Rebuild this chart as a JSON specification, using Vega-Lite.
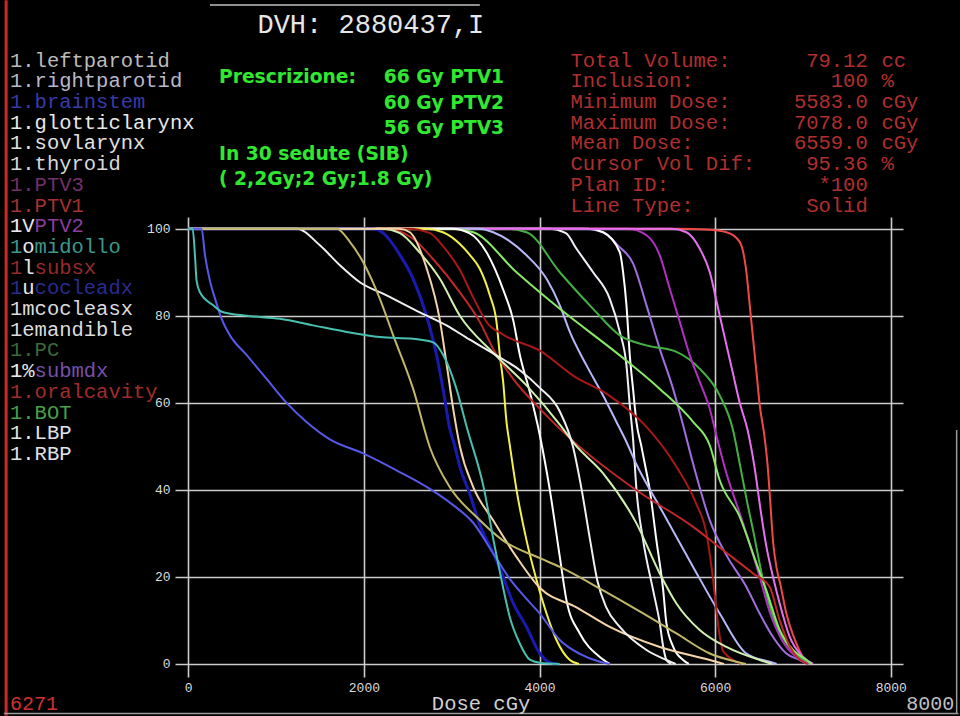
{
  "$schema": "https://vega.github.io/schema/vega-lite/v6.json",
  "width": 728,
  "height": 460,
  "autosize": {"type": "none"},
  "padding": {"left": 175, "top": 217, "right": 57, "bottom": 39},
  "background": "#000000",
  "config": {"view": {"stroke": null}},
  "datasets": {
    "curves": [
      {"s":"PTV1","d":0,"v":100},{"s":"PTV1","d":5583,"v":100},{"s":"PTV1","d":5900,"v":99.8},{"s":"PTV1","d":6128,"v":99.2},{"s":"PTV1","d":6280,"v":97},{"s":"PTV1","d":6356,"v":90},{"s":"PTV1","d":6394,"v":82.4},{"s":"PTV1","d":6432,"v":74.7},{"s":"PTV1","d":6470,"v":67.1},{"s":"PTV1","d":6508,"v":59.4},{"s":"PTV1","d":6560,"v":52.5},{"s":"PTV1","d":6600,"v":45},{"s":"PTV1","d":6625,"v":38},{"s":"PTV1","d":6660,"v":28},{"s":"PTV1","d":6700,"v":22},{"s":"PTV1","d":6740,"v":18.5},{"s":"PTV1","d":6811,"v":11.6},{"s":"PTV1","d":6925,"v":4.7},{"s":"PTV1","d":7000,"v":1.5},{"s":"PTV1","d":7078,"v":0},
      {"s":"submdx","d":0,"v":100},{"s":"submdx","d":4500,"v":100},{"s":"submdx","d":4724,"v":99.2},{"s":"submdx","d":4900,"v":96},{"s":"submdx","d":5066,"v":92},{"s":"submdx","d":5218,"v":82.4},{"s":"submdx","d":5369,"v":72.4},{"s":"submdx","d":5521,"v":63.2},{"s":"submdx","d":5620,"v":56},{"s":"submdx","d":5749,"v":46},{"s":"submdx","d":5939,"v":33},{"s":"submdx","d":6128,"v":25},{"s":"submdx","d":6356,"v":17.7},{"s":"submdx","d":6507,"v":11.6},{"s":"submdx","d":6659,"v":6.2},{"s":"submdx","d":6811,"v":2.4},{"s":"submdx","d":6963,"v":0.9},{"s":"submdx","d":7050,"v":0},
      {"s":"RBP","d":0,"v":100},{"s":"RBP","d":4550,"v":100},{"s":"RBP","d":4724,"v":99.2},{"s":"RBP","d":4914,"v":94.6},{"s":"RBP","d":4952,"v":90},{"s":"RBP","d":4990,"v":82.4},{"s":"RBP","d":5028,"v":70.9},{"s":"RBP","d":5066,"v":63},{"s":"RBP","d":5104,"v":55.5},{"s":"RBP","d":5160,"v":50},{"s":"RBP","d":5199,"v":46},{"s":"RBP","d":5255,"v":40},{"s":"RBP","d":5331,"v":28.4},{"s":"RBP","d":5408,"v":17},{"s":"RBP","d":5445,"v":9.3},{"s":"RBP","d":5521,"v":4},{"s":"RBP","d":5635,"v":0.9},{"s":"RBP","d":5700,"v":0},
      {"s":"LBP","d":0,"v":100},{"s":"LBP","d":4100,"v":100},{"s":"LBP","d":4300,"v":99},{"s":"LBP","d":4421,"v":95.4},{"s":"LBP","d":4610,"v":90},{"s":"LBP","d":4800,"v":83.9},{"s":"LBP","d":4914,"v":76.3},{"s":"LBP","d":4990,"v":68.6},{"s":"LBP","d":5028,"v":59.4},{"s":"LBP","d":5066,"v":51.4},{"s":"LBP","d":5104,"v":40},{"s":"LBP","d":5180,"v":28.4},{"s":"LBP","d":5293,"v":17},{"s":"LBP","d":5370,"v":9.3},{"s":"LBP","d":5408,"v":4},{"s":"LBP","d":5445,"v":0.9},{"s":"LBP","d":5500,"v":0},
      {"s":"BOT","d":0,"v":100},{"s":"BOT","d":3600,"v":100},{"s":"BOT","d":3852,"v":99.2},{"s":"BOT","d":4231,"v":90},{"s":"BOT","d":4610,"v":81.6},{"s":"BOT","d":4914,"v":75.5},{"s":"BOT","d":5218,"v":73.2},{"s":"BOT","d":5559,"v":71.7},{"s":"BOT","d":5825,"v":67.8},{"s":"BOT","d":6052,"v":61.7},{"s":"BOT","d":6204,"v":53.7},{"s":"BOT","d":6280,"v":46},{"s":"BOT","d":6356,"v":38},{"s":"BOT","d":6432,"v":30.7},{"s":"BOT","d":6545,"v":19.3},{"s":"BOT","d":6659,"v":10.8},{"s":"BOT","d":6811,"v":4.7},{"s":"BOT","d":7001,"v":0.9},{"s":"BOT","d":7080,"v":0},
      {"s":"PTV3","d":0,"v":100},{"s":"PTV3","d":5000,"v":100},{"s":"PTV3","d":5218,"v":98.5},{"s":"PTV3","d":5369,"v":93.9},{"s":"PTV3","d":5483,"v":86.2},{"s":"PTV3","d":5597,"v":78.6},{"s":"PTV3","d":5711,"v":70.9},{"s":"PTV3","d":5825,"v":64.8},{"s":"PTV3","d":5939,"v":58.6},{"s":"PTV3","d":6014,"v":52.5},{"s":"PTV3","d":6128,"v":43.8},{"s":"PTV3","d":6280,"v":34.6},{"s":"PTV3","d":6394,"v":27.5},{"s":"PTV3","d":6507,"v":20},{"s":"PTV3","d":6620,"v":12},{"s":"PTV3","d":6760,"v":5.5},{"s":"PTV3","d":6950,"v":1.2},{"s":"PTV3","d":7060,"v":0},
      {"s":"PTV2","d":0,"v":100},{"s":"PTV2","d":5500,"v":100},{"s":"PTV2","d":5673,"v":99.2},{"s":"PTV2","d":5825,"v":95.4},{"s":"PTV2","d":5939,"v":90},{"s":"PTV2","d":6030,"v":82},{"s":"PTV2","d":6120,"v":74},{"s":"PTV2","d":6200,"v":67},{"s":"PTV2","d":6280,"v":60},{"s":"PTV2","d":6370,"v":53.7},{"s":"PTV2","d":6450,"v":45},{"s":"PTV2","d":6520,"v":35},{"s":"PTV2","d":6583,"v":27},{"s":"PTV2","d":6659,"v":20},{"s":"PTV2","d":6735,"v":13.9},{"s":"PTV2","d":6849,"v":6.2},{"s":"PTV2","d":7001,"v":1.6},{"s":"PTV2","d":7115,"v":0},
      {"s":"rightparotid","d":0,"v":100},{"s":"rightparotid","d":3300,"v":100},{"s":"rightparotid","d":3472,"v":99.2},{"s":"rightparotid","d":3852,"v":93.9},{"s":"rightparotid","d":4080,"v":88.5},{"s":"rightparotid","d":4231,"v":82.4},{"s":"rightparotid","d":4345,"v":76.3},{"s":"rightparotid","d":4535,"v":68.6},{"s":"rightparotid","d":4724,"v":61.7},{"s":"rightparotid","d":4876,"v":55.6},{"s":"rightparotid","d":4990,"v":51},{"s":"rightparotid","d":5100,"v":46},{"s":"rightparotid","d":5369,"v":36.1},{"s":"rightparotid","d":5749,"v":22.3},{"s":"rightparotid","d":6052,"v":11.6},{"s":"rightparotid","d":6356,"v":2.4},{"s":"rightparotid","d":6621,"v":0.5},{"s":"rightparotid","d":6700,"v":0},
      {"s":"cocleasx","d":0,"v":100},{"s":"cocleasx","d":3000,"v":100},{"s":"cocleasx","d":3245,"v":99.2},{"s":"cocleasx","d":3738,"v":90},{"s":"cocleasx","d":4231,"v":81.6},{"s":"cocleasx","d":4914,"v":70.9},{"s":"cocleasx","d":5369,"v":63.2},{"s":"cocleasx","d":5749,"v":55.6},{"s":"cocleasx","d":5939,"v":50.2},{"s":"cocleasx","d":6052,"v":42.2},{"s":"cocleasx","d":6280,"v":33.8},{"s":"cocleasx","d":6470,"v":23.1},{"s":"cocleasx","d":6583,"v":16.9},{"s":"cocleasx","d":6735,"v":7.8},{"s":"cocleasx","d":6887,"v":3.2},{"s":"cocleasx","d":7039,"v":0.9},{"s":"cocleasx","d":7100,"v":0},
      {"s":"sovlarynx","d":0,"v":100},{"s":"sovlarynx","d":3000,"v":100},{"s":"sovlarynx","d":3200,"v":99},{"s":"sovlarynx","d":3396,"v":94.6},{"s":"sovlarynx","d":3586,"v":86},{"s":"sovlarynx","d":3700,"v":79},{"s":"sovlarynx","d":3776,"v":71},{"s":"sovlarynx","d":3889,"v":62.5},{"s":"sovlarynx","d":4004,"v":52.5},{"s":"sovlarynx","d":4117,"v":40},{"s":"sovlarynx","d":4231,"v":24.6},{"s":"sovlarynx","d":4307,"v":14.6},{"s":"sovlarynx","d":4459,"v":7},{"s":"sovlarynx","d":4686,"v":1.6},{"s":"sovlarynx","d":4800,"v":0},
      {"s":"glotticlarynx","d":0,"v":100},{"s":"glotticlarynx","d":2700,"v":100},{"s":"glotticlarynx","d":2900,"v":99.2},{"s":"glotticlarynx","d":3093,"v":96.5},{"s":"glotticlarynx","d":3206,"v":94},{"s":"glotticlarynx","d":3320,"v":90.8},{"s":"glotticlarynx","d":3434,"v":84.7},{"s":"glotticlarynx","d":3510,"v":78.6},{"s":"glotticlarynx","d":3548,"v":71},{"s":"glotticlarynx","d":3586,"v":64.8},{"s":"glotticlarynx","d":3624,"v":55.6},{"s":"glotticlarynx","d":3662,"v":50.2},{"s":"glotticlarynx","d":3738,"v":40},{"s":"glotticlarynx","d":3852,"v":28.4},{"s":"glotticlarynx","d":3966,"v":19.3},{"s":"glotticlarynx","d":4080,"v":11.6},{"s":"glotticlarynx","d":4193,"v":5.5},{"s":"glotticlarynx","d":4345,"v":0.9},{"s":"glotticlarynx","d":4450,"v":0},
      {"s":"subsx","d":0,"v":100},{"s":"subsx","d":2500,"v":100},{"s":"subsx","d":2751,"v":99},{"s":"subsx","d":2900,"v":96},{"s":"subsx","d":3093,"v":90.5},{"s":"subsx","d":3250,"v":84},{"s":"subsx","d":3400,"v":78.5},{"s":"subsx","d":3600,"v":75.5},{"s":"subsx","d":4004,"v":72},{"s":"subsx","d":4400,"v":66},{"s":"subsx","d":4769,"v":62},{"s":"subsx","d":5221,"v":54.4},{"s":"subsx","d":5559,"v":45.3},{"s":"subsx","d":5780,"v":37},{"s":"subsx","d":5900,"v":30},{"s":"subsx","d":5960,"v":22},{"s":"subsx","d":6000,"v":15},{"s":"subsx","d":6040,"v":8},{"s":"subsx","d":6090,"v":3},{"s":"subsx","d":6245,"v":0.5},{"s":"subsx","d":6300,"v":0},
      {"s":"oralcavity","d":0,"v":100},{"s":"oralcavity","d":2250,"v":100},{"s":"oralcavity","d":2561,"v":97.7},{"s":"oralcavity","d":2790,"v":93},{"s":"oralcavity","d":3093,"v":85.4},{"s":"oralcavity","d":3320,"v":78.6},{"s":"oralcavity","d":3472,"v":72.4},{"s":"oralcavity","d":3700,"v":65.5},{"s":"oralcavity","d":4004,"v":58.6},{"s":"oralcavity","d":4383,"v":51.2},{"s":"oralcavity","d":5104,"v":39.9},{"s":"oralcavity","d":5749,"v":31.5},{"s":"oralcavity","d":6100,"v":26},{"s":"oralcavity","d":6432,"v":20.8},{"s":"oralcavity","d":6621,"v":17.7},{"s":"oralcavity","d":6735,"v":10},{"s":"oralcavity","d":6850,"v":4},{"s":"oralcavity","d":6950,"v":1.2},{"s":"oralcavity","d":7050,"v":0},
      {"s":"brainstem","d":0,"v":100},{"s":"brainstem","d":2100,"v":100},{"s":"brainstem","d":2220,"v":99},{"s":"brainstem","d":2410,"v":94},{"s":"brainstem","d":2561,"v":88.5},{"s":"brainstem","d":2713,"v":80},{"s":"brainstem","d":2827,"v":71},{"s":"brainstem","d":2903,"v":63},{"s":"brainstem","d":2979,"v":54},{"s":"brainstem","d":3036,"v":50},{"s":"brainstem","d":3093,"v":45.3},{"s":"brainstem","d":3207,"v":39},{"s":"brainstem","d":3320,"v":32},{"s":"brainstem","d":3472,"v":25.5},{"s":"brainstem","d":3548,"v":22},{"s":"brainstem","d":3700,"v":14},{"s":"brainstem","d":3852,"v":8.5},{"s":"brainstem","d":4004,"v":2.4},{"s":"brainstem","d":4100,"v":0.5},{"s":"brainstem","d":4200,"v":0},
      {"s":"mandible","d":0,"v":100},{"s":"mandible","d":2200,"v":100},{"s":"mandible","d":2410,"v":99},{"s":"mandible","d":2637,"v":94.5},{"s":"mandible","d":2865,"v":88.5},{"s":"mandible","d":3093,"v":80},{"s":"mandible","d":3472,"v":71.5},{"s":"mandible","d":3852,"v":64},{"s":"mandible","d":4231,"v":55},{"s":"mandible","d":4400,"v":50.5},{"s":"mandible","d":4724,"v":43.8},{"s":"mandible","d":5104,"v":32.3},{"s":"mandible","d":5369,"v":20.8},{"s":"mandible","d":5559,"v":13.9},{"s":"mandible","d":5824,"v":7.8},{"s":"mandible","d":6128,"v":3.9},{"s":"mandible","d":6507,"v":0.9},{"s":"mandible","d":6650,"v":0},
      {"s":"thyroid","d":0,"v":100},{"s":"thyroid","d":2400,"v":100},{"s":"thyroid","d":2523,"v":99.2},{"s":"thyroid","d":2713,"v":91},{"s":"thyroid","d":2865,"v":79},{"s":"thyroid","d":2941,"v":69},{"s":"thyroid","d":3017,"v":58.6},{"s":"thyroid","d":3093,"v":50},{"s":"thyroid","d":3244,"v":40.7},{"s":"thyroid","d":3472,"v":33},{"s":"thyroid","d":3737,"v":24.6},{"s":"thyroid","d":4003,"v":17.5},{"s":"thyroid","d":4421,"v":13},{"s":"thyroid","d":4800,"v":8.5},{"s":"thyroid","d":5370,"v":3.9},{"s":"thyroid","d":5939,"v":0.9},{"s":"thyroid","d":6100,"v":0},
      {"s":"leftparotid","d":0,"v":100},{"s":"leftparotid","d":1233,"v":100},{"s":"leftparotid","d":1499,"v":96.2},{"s":"leftparotid","d":1727,"v":91.6},{"s":"leftparotid","d":1954,"v":87.7},{"s":"leftparotid","d":2258,"v":84.7},{"s":"leftparotid","d":2637,"v":80.8},{"s":"leftparotid","d":2941,"v":77.8},{"s":"leftparotid","d":3206,"v":74.5},{"s":"leftparotid","d":3500,"v":71},{"s":"leftparotid","d":3776,"v":67.5},{"s":"leftparotid","d":4000,"v":63.5},{"s":"leftparotid","d":4231,"v":58},{"s":"leftparotid","d":4380,"v":50},{"s":"leftparotid","d":4480,"v":40},{"s":"leftparotid","d":4580,"v":28},{"s":"leftparotid","d":4660,"v":19},{"s":"leftparotid","d":4760,"v":13},{"s":"leftparotid","d":4914,"v":8.5},{"s":"leftparotid","d":5218,"v":3.2},{"s":"leftparotid","d":5445,"v":0.9},{"s":"leftparotid","d":5550,"v":0},
      {"s":"PC","d":0,"v":100},{"s":"PC","d":1689,"v":100},{"s":"PC","d":1840,"v":97},{"s":"PC","d":1992,"v":92.3},{"s":"PC","d":2182,"v":83.9},{"s":"PC","d":2334,"v":75.5},{"s":"PC","d":2561,"v":63.2},{"s":"PC","d":2751,"v":49.8},{"s":"PC","d":2979,"v":40.6},{"s":"PC","d":3286,"v":33.7},{"s":"PC","d":3582,"v":28.4},{"s":"PC","d":4004,"v":24.3},{"s":"PC","d":4231,"v":22.3},{"s":"PC","d":4724,"v":16.9},{"s":"PC","d":5180,"v":11.6},{"s":"PC","d":5559,"v":7},{"s":"PC","d":5939,"v":2.4},{"s":"PC","d":6242,"v":0.5},{"s":"PC","d":6350,"v":0},
      {"s":"cocleadx","d":0,"v":100},{"s":"cocleadx","d":152,"v":100},{"s":"cocleadx","d":190,"v":94},{"s":"cocleadx","d":247,"v":88},{"s":"cocleadx","d":304,"v":84},{"s":"cocleadx","d":380,"v":79.3},{"s":"cocleadx","d":475,"v":75.5},{"s":"cocleadx","d":664,"v":71},{"s":"cocleadx","d":892,"v":65.5},{"s":"cocleadx","d":1120,"v":60},{"s":"cocleadx","d":1347,"v":55.6},{"s":"cocleadx","d":1613,"v":51.6},{"s":"cocleadx","d":1990,"v":48.4},{"s":"cocleadx","d":2372,"v":44.5},{"s":"cocleadx","d":2770,"v":40},{"s":"cocleadx","d":3017,"v":36.5},{"s":"cocleadx","d":3242,"v":32.5},{"s":"cocleadx","d":3470,"v":25.5},{"s":"cocleadx","d":3663,"v":19.5},{"s":"cocleadx","d":3850,"v":15},{"s":"cocleadx","d":4005,"v":11.5},{"s":"cocleadx","d":4231,"v":5.5},{"s":"cocleadx","d":4459,"v":2.3},{"s":"cocleadx","d":4686,"v":0.5},{"s":"cocleadx","d":4800,"v":0},
      {"s":"midollo","d":0,"v":100},{"s":"midollo","d":50,"v":100},{"s":"midollo","d":76,"v":94},{"s":"midollo","d":95,"v":88},{"s":"midollo","d":133,"v":85.4},{"s":"midollo","d":285,"v":82.4},{"s":"midollo","d":399,"v":80.8},{"s":"midollo","d":664,"v":80},{"s":"midollo","d":1044,"v":79.3},{"s":"midollo","d":1423,"v":77.8},{"s":"midollo","d":1803,"v":76.3},{"s":"midollo","d":2182,"v":75.1},{"s":"midollo","d":2561,"v":74.7},{"s":"midollo","d":2789,"v":73.9},{"s":"midollo","d":2903,"v":71},{"s":"midollo","d":3050,"v":63.5},{"s":"midollo","d":3170,"v":54.5},{"s":"midollo","d":3370,"v":40},{"s":"midollo","d":3480,"v":28},{"s":"midollo","d":3560,"v":20},{"s":"midollo","d":3661,"v":10.8},{"s":"midollo","d":3775,"v":4.7},{"s":"midollo","d":3889,"v":1},{"s":"midollo","d":4000,"v":0.3},{"s":"midollo","d":4230,"v":0}
    ],
    "legend": [
      {"label":"1.leftparotid","row":0},{"label":"1.rightparotid","row":1},{"label":"1.brainstem","row":2},{"label":"1.glotticlarynx","row":3},{"label":"1.sovlarynx","row":4},{"label":"1.thyroid","row":5},{"label":"1.PTV3","row":6},{"label":"1.PTV1","row":7},{"label":"1 PTV2","row":8},{"label":"1 midollo","row":9},{"label":"1 subsx","row":10},{"label":"1 cocleadx","row":11},{"label":"1mcocleasx","row":12},{"label":"1emandible","row":13},{"label":"1.PC","row":14},{"label":"1 submdx","row":15},{"label":"1.oralcavity","row":16},{"label":"1.BOT","row":17},{"label":"1.LBP","row":18},{"label":"1.RBP","row":19}
    ],
    "frame": [
      {"side": "left"}
    ]
  },
  "layer": [
    {
      "layer": [
        {
          "data": {"name": "curves"},
          "mark": {"type": "line", "interpolate": "monotone"},
          "encoding": {
            "x": {"field": "d", "type": "quantitative",
              "scale": {"domain": [-151, 8139], "nice": false, "zero": false},
              "axis": {"values": [0, 2000, 4000, 6000, 8000], "format": "d", "title": null, "domain": false, "ticks": false, "tickSize": 0, "labelFont": "Liberation Mono", "labelFontSize": 13, "labelColor": "#dcdcdc", "labelPadding": 4, "labelFlush": false, "labelOverlap": false, "grid": true, "gridColor": "#cccccc", "gridWidth": 1.6, "gridOpacity": 1}},
            "y": {"field": "v", "type": "quantitative",
              "scale": {"domain": [-3, 102.7], "nice": false, "zero": false},
              "axis": {"values": [0, 20, 40, 60, 80, 100], "format": "d", "title": null, "domain": false, "ticks": false, "tickSize": 0, "labelFont": "Liberation Mono", "labelFontSize": 13, "labelColor": "#dcdcdc", "labelPadding": 5, "labelFlush": false, "labelOverlap": false, "grid": true, "gridColor": "#cccccc", "gridWidth": 1.6, "gridOpacity": 1}},
            "color": {"field": "s", "type": "nominal", "legend": null,
              "scale": {
                "domain": ["PTV1","submdx","RBP","LBP","BOT","PTV3","PTV2","rightparotid","cocleasx","sovlarynx","glotticlarynx","subsx","oralcavity","brainstem","mandible","thyroid","leftparotid","PC","cocleadx","midollo"],
                "range": ["#f04848","#a070e0","#ffffff","#f0f0f8","#44b044","#b030c0","#e870f0","#b8b8f8","#88e868","#ffffff","#f4f048","#a81818","#c02828","#1a1ab0","#d0f0b0","#f4d4a8","#f0f0f0","#c0b868","#5858e8","#48c0b0"]}},
            "strokeWidth": {"condition": {"test": "datum.s === 'brainstem'", "value": 3}, "value": 2}
          }
        },
        {
          "mark": {"type": "rule", "color": "#b03838", "strokeWidth": 1.5},
          "encoding": {"x": {"datum": 6271}, "y": {"datum": 0}, "y2": {"datum": 100}}
        },
        {
          "data": {"name": "frame"},
          "mark": {"type": "rule", "color": "#d02828", "strokeWidth": 3, "clip": false},
          "encoding": {"x": {"datum": -2074}, "y": {"datum": -11.9}, "y2": {"datum": 152.5}}
        },
        {
          "data": {"name": "frame"},
          "mark": {"type": "rule", "color": "#9a9a9a", "strokeWidth": 1.5, "clip": false},
          "encoding": {"x": {"datum": -2100}, "x2": {"datum": 8770}, "y": {"datum": -11.39}}
        },
        {
          "data": {"name": "frame"},
          "mark": {"type": "rule", "color": "#9a9a9a", "strokeWidth": 1.5, "clip": false},
          "encoding": {"x": {"datum": 8750}, "y": {"datum": -11.39}, "y2": {"datum": 53.76}}
        },
        {
          "data": {"name": "frame"},
          "mark": {"type": "rule", "color": "#909090", "strokeWidth": 2, "clip": false},
          "encoding": {"x": {"datum": 247}, "x2": {"datum": 3320}, "y": {"datum": 151.4}}
        },
        {
          "data": {"values": [{"t": "DVH: 2880437,I"}]},
          "mark": {"type": "text", "font": "Liberation Mono", "fontSize": 27, "align": "left", "baseline": "alphabetic", "color": "#e6e6e6"},
          "encoding": {"x": {"datum": 788}, "y": {"datum": 144.9}, "text": {"field": "t"}}
        },
        {
          "data": {"values": [{"t": "6271"}]},
          "mark": {"type": "text", "font": "Liberation Mono", "fontSize": 20, "align": "left", "baseline": "alphabetic", "color": "#d03030"},
          "encoding": {"x": {"datum": -2030}, "y": {"datum": -10.58}, "text": {"field": "t"}}
        },
        {
          "data": {"values": [{"t": "Dose cGy"}]},
          "mark": {"type": "text", "font": "Liberation Mono", "fontSize": 20.5, "align": "left", "baseline": "alphabetic", "color": "#d0d0d0"},
          "encoding": {"x": {"datum": 2774}, "y": {"datum": -10.58}, "text": {"field": "t"}}
        },
        {
          "data": {"values": [{"t": "8000"}]},
          "mark": {"type": "text", "font": "Liberation Mono", "fontSize": 20, "align": "left", "baseline": "alphabetic", "color": "#c0c0c0"},
          "encoding": {"x": {"datum": 8175}, "y": {"datum": -10.58}, "text": {"field": "t"}}
        }
      ]
    },
    {
      "layer": [
        {
          "data": {"name": "legend"},
          "mark": {"type": "text", "font": "Liberation Mono", "fontSize": 20.5, "align": "left", "baseline": "alphabetic"},
          "encoding": {
            "x": {"datum": -2030},
            "y": {"field": "row", "type": "quantitative", "scale": {"domain": [7.2609, 29.4831], "reverse": true, "nice": false, "zero": false}, "axis": null},
            "text": {"field": "label"},
            "color": {"field": "label", "type": "nominal", "legend": null,
              "scale": {
                "domain": ["1.leftparotid","1.rightparotid","1.brainstem","1.glotticlarynx","1.sovlarynx","1.thyroid","1.PTV3","1.PTV1","1 PTV2","1 midollo","1 subsx","1 cocleadx","1mcocleasx","1emandible","1.PC","1 submdx","1.oralcavity","1.BOT","1.LBP","1.RBP"],
                "range": ["#bcbcbc","#b8b8ca","#3a3aa8","#e8e8e8","#e0e0e0","#d8d8d8","#74306a","#a43232","#8a3ea0","#3c988a","#962a2a","#2a2a90","#dcdcdc","#dcdcdc","#3c6a3c","#7650a8","#a02c2c","#48a048","#e2e2e2","#e2e2e2"]}}
          }
        },
        {
          "data": {"values": [{"t": "1V", "row": 8}, {"t": "1%", "row": 15}]},
          "mark": {"type": "text", "font": "Liberation Mono", "fontSize": 20.5, "align": "left", "baseline": "alphabetic", "color": "#e8e8e8"},
          "encoding": {"x": {"datum": -2030}, "y": {"field": "row", "type": "quantitative", "axis": null}, "text": {"field": "t"}}
        },
        {
          "data": {"values": [{"t": "o", "row": 9}, {"t": "l", "row": 10}, {"t": "u", "row": 11}]},
          "mark": {"type": "text", "font": "Liberation Mono", "fontSize": 20.5, "align": "left", "baseline": "alphabetic", "color": "#e8e8e8"},
          "encoding": {"x": {"datum": -1890}, "y": {"field": "row", "type": "quantitative", "axis": null}, "text": {"field": "t"}}
        },
        {
          "data": {"values": [{"t": "Total Volume:", "row": 0}, {"t": "Inclusion:", "row": 1}, {"t": "Minimum Dose:", "row": 2}, {"t": "Maximum Dose:", "row": 3}, {"t": "Mean Dose:", "row": 4}, {"t": "Cursor Vol Dif:", "row": 5}, {"t": "Plan ID:", "row": 6}, {"t": "Line Type:", "row": 7}]},
          "mark": {"type": "text", "font": "Liberation Mono", "fontSize": 20.5, "align": "left", "baseline": "alphabetic", "color": "#b02e2e"},
          "encoding": {"x": {"datum": 4353}, "y": {"field": "row", "type": "quantitative", "axis": null}, "text": {"field": "t"}}
        },
        {
          "data": {"values": [{"t": "79.12", "row": 0}, {"t": "100", "row": 1}, {"t": "5583.0", "row": 2}, {"t": "7078.0", "row": 3}, {"t": "6559.0", "row": 4}, {"t": "95.36", "row": 5}, {"t": "*100", "row": 6}, {"t": "Solid", "row": 7}]},
          "mark": {"type": "text", "font": "Liberation Mono", "fontSize": 20.5, "align": "right", "baseline": "alphabetic", "color": "#b02e2e"},
          "encoding": {"x": {"datum": 7737}, "y": {"field": "row", "type": "quantitative", "axis": null}, "text": {"field": "t"}}
        },
        {
          "data": {"values": [{"t": "cc", "row": 0}, {"t": "%", "row": 1}, {"t": "cGy", "row": 2}, {"t": "cGy", "row": 3}, {"t": "cGy", "row": 4}, {"t": "%", "row": 5}]},
          "mark": {"type": "text", "font": "Liberation Mono", "fontSize": 20.5, "align": "left", "baseline": "alphabetic", "color": "#b02e2e"},
          "encoding": {"x": {"datum": 7894}, "y": {"field": "row", "type": "quantitative", "axis": null}, "text": {"field": "t"}}
        }
      ]
    },
    {
      "layer": [
        {
          "data": {"values": [{"t": "Prescrizione:", "line": 0}, {"t": "In 30 sedute (SIB)", "line": 3}, {"t": "( 2,2Gy;2 Gy;1.8 Gy)", "line": 4}]},
          "mark": {"type": "text", "font": "DejaVu Sans", "fontWeight": "bold", "fontSize": 18.7, "align": "left", "baseline": "alphabetic", "color": "#30e830"},
          "encoding": {
            "x": {"datum": 350},
            "y": {"field": "line", "type": "quantitative", "scale": {"domain": [5.2559, 23.3661], "reverse": true, "nice": false, "zero": false}, "axis": null},
            "text": {"field": "t"}
          }
        },
        {
          "data": {"values": [{"t": "66 Gy PTV1", "line": 0}, {"t": "60 Gy PTV2", "line": 1}, {"t": "56 Gy PTV3", "line": 2}]},
          "mark": {"type": "text", "font": "DejaVu Sans", "fontWeight": "bold", "fontSize": 18.7, "align": "left", "baseline": "alphabetic", "color": "#30e830"},
          "encoding": {"x": {"datum": 2225}, "y": {"field": "line", "type": "quantitative", "axis": null}, "text": {"field": "t"}}
        }
      ]
    }
  ],
  "resolve": {"scale": {"y": "independent", "color": "independent"}}
}
